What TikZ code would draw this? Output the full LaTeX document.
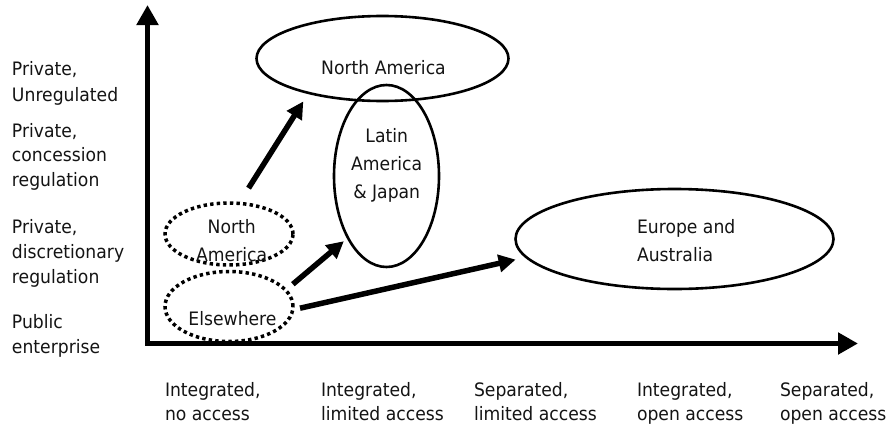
\documentclass[tikz,border=0pt]{standalone}
\usepackage{fontspec}
\setmainfont{DejaVu Sans}[FakeStretch=0.93]
\usetikzlibrary{shapes.geometric,arrows.meta}
% stacked lines whose baseline is the first row
\newcommand{\txtrows}[2]{\begin{tabular}[t]{@{}#1@{}}#2\end{tabular}}
\begin{document}
\begin{tikzpicture}[x=1pt,y=-1pt,
  txt/.style={inner sep=0pt, outer sep=0pt, text=black!92,
    font=\fontsize{18.5}{#1}\selectfont},
  txt/.default=25,
  oval/.style={ellipse, draw=black, line width=2.6pt, inner sep=0pt, outer sep=0pt},
  dotoval/.style={ellipse, draw=black, line width=3.5pt, dash pattern=on 3.4pt off 3.2pt,
    inner sep=0pt, outer sep=0pt},
  axisline/.style={line width=5pt, line join=miter,
    {Triangle[length=20pt,width=21pt]}-{Triangle[length=20pt,width=21pt]}},
  move/.style={line width=5.5pt, -{Triangle[length=17pt,width=17pt]}}]
\useasboundingbox (0,0) rectangle (888,423);

% axes
\coordinate (ytip) at (147.5,5);
\coordinate (orig) at (147.5,343.5);
\coordinate (xtip) at (858,343.5);
\draw[axisline] (ytip) -- (orig) -- (xtip);

% vertical axis categories
\node[txt=26.5, anchor=base west] (y1) at (12,75) {\txtrows{l}{Private,\\Unregulated}};
\node[txt=24.5, anchor=base west] (y2) at (12,137) {\txtrows{l}{Private,\\concession\\regulation}};
\node[txt=25, anchor=base west] (y3) at (12,233) {\txtrows{l}{Private,\\discretionary\\regulation}};
\node[txt=25, anchor=base west] (y4) at (12,328) {\txtrows{l}{Public\\enterprise}};

% horizontal axis categories
\node[txt=23.3, anchor=base west] (x1) at (165,396.7) {\txtrows{l}{Integrated,\\no access}};
\node[txt=23.3, anchor=base west] (x2) at (321,396.7) {\txtrows{l}{Integrated,\\limited access}};
\node[txt=23.3, anchor=base west] (x3) at (474,396.7) {\txtrows{l}{Separated,\\limited access}};
\node[txt=23.3, anchor=base west] (x4) at (637,396.7) {\txtrows{l}{Integrated,\\open access}};
\node[txt=23.3, anchor=base west] (x5) at (780,396.7) {\txtrows{l}{Separated,\\open access}};

% regions
\node[oval, minimum width=252pt, minimum height=85pt] (na) at (382.5,58.5) {};
\node[oval, minimum width=105pt, minimum height=182pt] (lam) at (386.5,176) {};
\node[oval, minimum width=318pt, minimum height=100pt] (eu) at (674.5,239) {};
\node[dotoval, minimum width=128pt, minimum height=62pt] (dna) at (229,234) {};
\node[dotoval, minimum width=128pt, minimum height=70pt] (els) at (229,306.5) {};

% region names
\node[txt, anchor=base] (na-t) at (383.5,74) {North America};
\node[txt=28, anchor=base] (lam-t) at (386.7,142) {\txtrows{c}{Latin\\America\\\& Japan}};
\node[txt=28.4, anchor=base west] (eu-t) at (637,233.3) {\txtrows{l}{Europe and\\Australia}};
\node[txt=28.4, anchor=base] (dna-t) at (231.7,233.3) {\txtrows{c}{North\\America}};
\node[txt, anchor=base] (els-t) at (232.5,325) {Elsewhere};

% reform paths
\draw[move, shorten <=18pt, shorten >=10pt] (dna.72) -- (na.205);
\draw[move, shorten <=9.4pt, shorten >=5.4pt] (els.16) -- (lam.238);
\draw[move, shorten <=7.5pt, shorten >=11pt] (els.357) -- (eu.187);
\end{tikzpicture}
\end{document}
